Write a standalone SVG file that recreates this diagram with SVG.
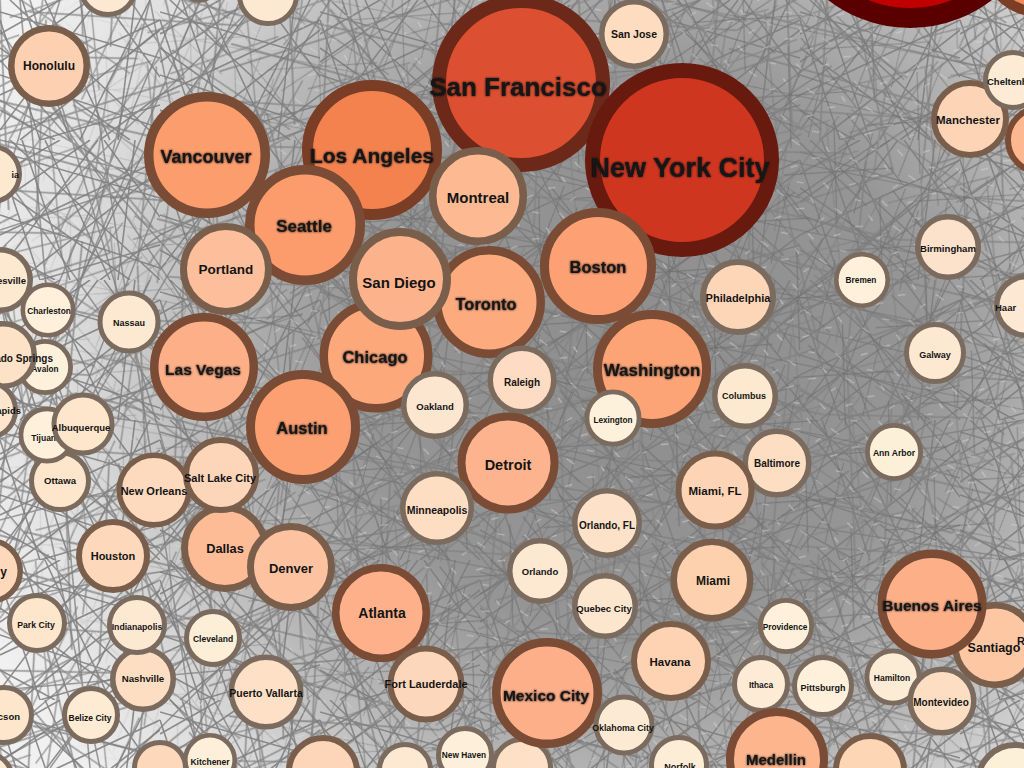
<svg xmlns="http://www.w3.org/2000/svg" width="1024" height="768" viewBox="0 0 1024 768">
<defs>
<style>
.l{font-family:"Liberation Sans",Arial,Helvetica,sans-serif;font-weight:bold;fill:#141414;text-anchor:middle}
.e{text-anchor:end}
.st{text-anchor:start}
.s1{stroke:#7b6b5f}
.s2{stroke:#7a5e4c}
.s3{stroke:#7a4b35}
.big{filter:url(#sh)}
.ln{stroke:#7d7d7d;stroke-width:1.6;fill:none;stroke-opacity:0.75}
</style>
<filter id="sh" x="-10%" y="-30%" width="120%" height="160%">
<feGaussianBlur in="SourceGraphic" stdDeviation="1.1" result="b"/>
<feMerge><feMergeNode in="b"/><feMergeNode in="SourceGraphic"/></feMerge>
</filter>
<radialGradient id="rg" gradientUnits="userSpaceOnUse" cx="640" cy="360" r="700">
<stop offset="0" stop-color="#878787" stop-opacity="0.95"/>
<stop offset="0.4" stop-color="#878787" stop-opacity="0.88"/>
<stop offset="0.62" stop-color="#878787" stop-opacity="0.6"/>
<stop offset="0.82" stop-color="#878787" stop-opacity="0.28"/>
<stop offset="1" stop-color="#878787" stop-opacity="0.12"/>
</radialGradient>
<radialGradient id="rw" gradientUnits="userSpaceOnUse" cx="640" cy="360" r="700">
<stop offset="0" stop-color="#ffffff" stop-opacity="1"/>
<stop offset="0.5" stop-color="#ffffff" stop-opacity="0.8"/>
<stop offset="0.8" stop-color="#ffffff" stop-opacity="0.3"/>
<stop offset="1" stop-color="#ffffff" stop-opacity="0"/>
</radialGradient>
<mask id="m1" maskUnits="userSpaceOnUse" x="0" y="0" width="1024" height="768">
<rect width="1024" height="768" fill="url(#rw)"/>
</mask>
<pattern id="pA" width="160" height="140" patternUnits="userSpaceOnUse">
<path d="M0 12L160 58M0 95L160 20M22 0L70 140M104 0L160 77M0 130L98 0M40 140L160 105M0 48L130 140M135 0L118 140M0 75L160 128M60 0L0 34M80 140L150 0M0 110L55 140M160 30L20 140M10 0L160 140M0 62L90 0M160 95L100 140M45 0L110 140M0 20L40 140" stroke="#7c7c7c" stroke-width="1.6" fill="none"/>
</pattern>
<pattern id="pB" width="230" height="190" patternUnits="userSpaceOnUse" patternTransform="rotate(23)">
<path d="M0 30L230 150M0 170L200 0M50 0L120 190M0 100L230 60M170 0L230 190M0 0L90 190M230 120L30 190M140 190L230 20M0 60L150 0M0 140L230 110M100 0L0 120M200 190L60 0" stroke="#808080" stroke-width="1.8" fill="none"/>
</pattern>
<pattern id="pC" width="97" height="89" patternUnits="userSpaceOnUse" patternTransform="rotate(-31)">
<path d="M0 20L97 70M0 80L97 5M30 0L55 89M70 0L20 89M0 45L97 40M85 0L97 89M0 0L97 89M97 30L40 89" stroke="#6e6e6e" stroke-width="1" fill="none"/>
</pattern>
<pattern id="pD" width="127" height="113" patternUnits="userSpaceOnUse" patternTransform="rotate(61)">
<path d="M0 15L127 70M0 100L127 35M40 0L20 113M90 0L127 60M0 60L70 113M127 90L60 0M0 0L50 113M100 113L127 10" stroke="#838383" stroke-width="1.6" fill="none"/>
</pattern>
<pattern id="pW" width="61" height="53" patternUnits="userSpaceOnUse" patternTransform="rotate(17)">
<path d="M5 8L14 11M30 20L37 17M48 40L55 44M12 35L18 31M40 5L45 9M22 47L29 46M55 25L59 20" stroke="#ffffff" stroke-width="1.2" fill="none"/>
</pattern>
</defs>
<rect width="1024" height="768" fill="#ffffff"/>
<g id="connectors">
<rect width="1024" height="768" fill="url(#rg)"/>
<rect width="1024" height="768" fill="url(#pA)" opacity="0.85"/>
<rect width="1024" height="768" fill="url(#pB)" opacity="0.75"/>
<rect width="1024" height="768" fill="url(#pD)" opacity="0.7"/>
<rect width="1024" height="768" fill="url(#pC)" mask="url(#m1)"/>
<rect width="1024" height="768" fill="url(#pW)" mask="url(#m1)" opacity="0.45"/>
<path class="ln" d="M0 100L1024 700M0 230L700 0M50 768L600 0M0 520L1024 250M150 0L300 768M0 650L900 0M0 400L1024 560M300 768L1024 100M0 30L500 768M0 720L400 300M100 768L0 300M0 170L420 768M240 0L0 600M0 460L560 0M0 600L1024 420M80 0L200 768M0 330L380 768M0 250L260 0M0 560L330 0M180 768L520 0M0 690L1024 600M20 0L90 768M0 140L1024 380M0 760L700 380M360 768L0 380M0 60L300 400M120 768L470 420M0 505L230 768M260 768L30 0M0 420L180 0M0 300L250 768M60 0L0 200M0 610L150 0M200 0L0 470M0 740L260 520M130 0L330 300"/>
</g>
<g id="nodes">
<g id="n-p1"><circle cx="108" cy="-13" r="27.5" fill="#fde8d2" stroke-width="5" class="s1"/></g>
<g id="n-p2"><circle cx="268" cy="-5" r="28.5" fill="#fde8d2" stroke-width="5" class="s1"/></g>
<g id="n-p3"><circle cx="199" cy="-16" r="17" fill="#fde8d2" stroke-width="4" class="s1"/></g>
<g id="n-tr"><circle cx="910" cy="-106" r="124" fill="#c00000" stroke="#5a0000" stroke-width="20"/></g>
<g id="n-tr2"><circle cx="1040" cy="-45" r="57" fill="#f08a5a" stroke="#7a3d25" stroke-width="10"/></g>

<g id="n-ia"><circle cx="-8" cy="174" r="27.5" fill="#fde8d0" stroke-width="5" class="s1"/><text class="l e" x="19" y="178" font-size="9">ia</text></g>
<g id="n-honolulu"><circle cx="49" cy="66" r="37.75" fill="#fdd0b1" stroke-width="6.5" class="s2"/><text class="l" x="49" y="70" font-size="12">Honolulu</text></g>
<g id="n-esville"><circle cx="0" cy="280" r="30.25" fill="#fde8d0" stroke-width="5.5" class="s1"/><text class="l e" x="26" y="284" font-size="9.5">esville</text></g>
<g id="n-charleston"><circle cx="48" cy="310" r="25.2" fill="#fef0da" stroke-width="4.6" class="s1"/><text class="l" x="49" y="314" font-size="8.4">Charleston</text></g>
<g id="n-nassau"><circle cx="129" cy="322" r="29" fill="#fde8d2" stroke-width="5" class="s1"/><text class="l" x="129" y="326" font-size="9">Nassau</text></g>
<g id="n-avalon"><circle cx="45" cy="367" r="25.6" fill="#fef1db" stroke-width="4.8" class="s1"/><text class="l" x="45" y="372" font-size="8.2">Avalon</text></g>
<g id="n-springs"><circle cx="3" cy="355" r="31.25" fill="#fde2c7" stroke-width="5.5" class="s1"/><text class="l e" x="53" y="362" font-size="10">rado Springs</text></g>
<g id="n-apids"><circle cx="-12" cy="410" r="27.5" fill="#fde6cc" stroke-width="5" class="s1"/><text class="l e" x="21" y="414" font-size="9.5">apids</text></g>
<g id="n-ottawa"><circle cx="60" cy="481" r="28.5" fill="#fde6cc" stroke-width="5" class="s1"/><text class="l" x="60" y="484" font-size="9.6">Ottawa</text></g>
<g id="n-tijuana"><circle cx="47" cy="435" r="26.1" fill="#fef0da" stroke-width="4.8" class="s1"/><text class="l" x="46" y="441" font-size="8.5">Tijuana</text></g>
<g id="n-albuquerque"><circle cx="83" cy="424" r="29" fill="#fde6cc" stroke-width="5" class="s1"/><text class="l" x="81" y="431" font-size="9.5">Albuquerque</text></g>

<g id="n-sanfrancisco"><circle cx="521" cy="83" r="82" fill="#dd4f31" stroke="#6c2818" stroke-width="14"/><text class="l big" x="518" y="96" font-size="26">San Francisco</text></g>
<g id="n-newyork"><circle cx="682" cy="160" r="89.5" fill="#cf3620" stroke="#681a0f" stroke-width="15"/><text class="l big" x="680" y="177" font-size="27">New York City</text></g>
<g id="n-sanjose"><circle cx="634" cy="34" r="32.25" fill="#fedcbf" stroke-width="5.5" class="s1"/><text class="l" x="634" y="38" font-size="10.5">San Jose</text></g>
<g id="n-losangeles"><circle cx="372" cy="150" r="64.5" fill="#f4824f" stroke="#7a3d25" stroke-width="11"/><text class="l big" x="372" y="163" font-size="21">Los Angeles</text></g>
<g id="n-vancouver"><circle cx="207" cy="155" r="58.25" fill="#fc9d6d" stroke-width="9.5" class="s3"/><text class="l big" x="206" y="163" font-size="18">Vancouver</text></g>
<g id="n-seattle"><circle cx="305" cy="225" r="55.25" fill="#fc9c6c" stroke-width="9.5" class="s3"/><text class="l big" x="304" y="232" font-size="17">Seattle</text></g>
<g id="n-portland"><circle cx="226" cy="269" r="42.5" fill="#fdbf9b" stroke-width="7" class="s2"/><text class="l" x="226" y="274" font-size="13.5">Portland</text></g>
<g id="n-montreal"><circle cx="478" cy="196" r="45.25" fill="#fdb991" stroke-width="7.5" class="s2"/><text class="l" x="478" y="203" font-size="15">Montreal</text></g>
<g id="n-toronto"><circle cx="489" cy="302" r="51.75" fill="#fdaa7f" stroke-width="8.5" class="s3"/><text class="l big" x="486" y="310" font-size="16.5">Toronto</text></g>
<g id="n-chicago"><circle cx="376" cy="356" r="52.25" fill="#fda87b" stroke-width="8.5" class="s3"/><text class="l big" x="375" y="363" font-size="16.5">Chicago</text></g>
<g id="n-austin"><circle cx="303" cy="427" r="52.5" fill="#fca071" stroke-width="9" class="s3"/><text class="l big" x="302" y="434" font-size="16.5">Austin</text></g>
<g id="n-sandiego"><circle cx="400" cy="279" r="47" fill="#fcb38b" stroke-width="8" class="s2"/><text class="l" x="399" y="288" font-size="15">San Diego</text></g>
<g id="n-oakland"><circle cx="435" cy="405" r="31.25" fill="#fde6d0" stroke-width="5.5" class="s1"/><text class="l" x="435" y="410" font-size="9.5">Oakland</text></g>
<g id="n-boston"><circle cx="598" cy="266" r="53.5" fill="#fda074" stroke-width="9" class="s3"/><text class="l big" x="598" y="273" font-size="16.5">Boston</text></g>
<g id="n-washington"><circle cx="652" cy="369" r="54.5" fill="#fda476" stroke-width="9" class="s3"/><text class="l big" x="652" y="376" font-size="17">Washington</text></g>
<g id="n-lexington"><circle cx="613" cy="418" r="26.1" fill="#fef1db" stroke-width="4.8" class="s1"/><text class="l" x="613" y="423" font-size="8.2">Lexington</text></g>
<g id="n-philadelphia"><circle cx="738" cy="297" r="35" fill="#fdd5b7" stroke-width="6" class="s1"/><text class="l" x="738" y="302" font-size="11">Philadelphia</text></g>
<g id="n-columbus"><circle cx="745" cy="396" r="30.25" fill="#fde8d0" stroke-width="5.5" class="s1"/><text class="l" x="744" y="399" font-size="9">Columbus</text></g>
<g id="n-raleigh"><circle cx="522" cy="380" r="31.75" fill="#fddcc3" stroke-width="5.5" class="s1"/><text class="l" x="522" y="386" font-size="10">Raleigh</text></g>
<g id="n-detroit"><circle cx="508" cy="463" r="46.5" fill="#fdb48e" stroke-width="8" class="s3"/><text class="l" x="508" y="470" font-size="14.5">Detroit</text></g>
<g id="n-minneapolis"><circle cx="437" cy="508" r="34.25" fill="#fddec3" stroke-width="5.5" class="s1"/><text class="l" x="437" y="514" font-size="10.5">Minneapolis</text></g>
<g id="n-baltimore"><circle cx="777" cy="463" r="31.75" fill="#fddec3" stroke-width="5.5" class="s1"/><text class="l" x="777" y="467" font-size="10">Baltimore</text></g>
<g id="n-miamifl"><circle cx="715" cy="490" r="36.5" fill="#fdd4b6" stroke-width="6" class="s2"/><text class="l" x="715" y="495" font-size="11.5">Miami, FL</text></g>
<g id="n-orlandofl"><circle cx="607" cy="523" r="32.25" fill="#fde2c9" stroke-width="5.5" class="s1"/><text class="l" x="607" y="529" font-size="10">Orlando, FL</text></g>
<g id="n-miami"><circle cx="712" cy="580" r="38.25" fill="#fdd0ae" stroke-width="6.5" class="s2"/><text class="l" x="713" y="585" font-size="12">Miami</text></g>
<g id="n-orlando"><circle cx="540" cy="571" r="30.25" fill="#fde8d2" stroke-width="5.5" class="s1"/><text class="l" x="540" y="575" font-size="9.5">Orlando</text></g>
<g id="n-quebec"><circle cx="605" cy="606" r="30.25" fill="#fde6ce" stroke-width="5.5" class="s1"/><text class="l" x="604" y="612" font-size="9.5">Quebec City</text></g>
<g id="n-havana"><circle cx="671" cy="661" r="37" fill="#fdd3b4" stroke-width="6" class="s2"/><text class="l" x="670" y="666" font-size="11.5">Havana</text></g>
<g id="n-providence"><circle cx="786" cy="626" r="25.6" fill="#fef0da" stroke-width="4.8" class="s1"/><text class="l" x="785" y="630" font-size="8.3">Providence</text></g>
<g id="n-ithaca"><circle cx="761" cy="684" r="26.5" fill="#fdebd5" stroke-width="5" class="s1"/><text class="l" x="761" y="688" font-size="8.4">Ithaca</text></g>
<g id="n-pittsburgh"><circle cx="823" cy="686" r="28.5" fill="#fef0db" stroke-width="5" class="s1"/><text class="l" x="823" y="691" font-size="9">Pittsburgh</text></g>

<g id="n-lasvegas"><circle cx="204" cy="367" r="49.75" fill="#fdb088" stroke-width="8.5" class="s3"/><text class="l big" x="203" y="375" font-size="15.5">Las Vegas</text></g>
<g id="n-neworleans"><circle cx="154" cy="490" r="34.75" fill="#fddabe" stroke-width="5.5" class="s2"/><text class="l" x="154" y="495" font-size="11">New Orleans</text></g>
<g id="n-dallas"><circle cx="225" cy="548" r="40.5" fill="#fdbb96" stroke-width="7" class="s2"/><text class="l" x="225" y="553" font-size="12.8">Dallas</text></g>
<g id="n-saltlake"><circle cx="221" cy="475" r="35" fill="#fdd6ba" stroke-width="6" class="s2"/><text class="l" x="220" y="482" font-size="11">Salt Lake City</text></g>
<g id="n-denver"><circle cx="291" cy="567" r="40.5" fill="#fdc3a0" stroke-width="7" class="s2"/><text class="l" x="291" y="573" font-size="13">Denver</text></g>
<g id="n-houston"><circle cx="113" cy="556" r="34" fill="#fdd8bb" stroke-width="6" class="s2"/><text class="l" x="113" y="560" font-size="11">Houston</text></g>
<g id="n-y"><circle cx="-10" cy="571" r="30.25" fill="#fdd8bb" stroke-width="5.5" class="s2"/><text class="l e" x="7" y="576" font-size="12">y</text></g>
<g id="n-atlanta"><circle cx="381" cy="613" r="45.25" fill="#fdb089" stroke-width="7.5" class="s3"/><text class="l" x="382" y="618" font-size="14">Atlanta</text></g>
<g id="n-parkcity"><circle cx="37" cy="623" r="27.5" fill="#fde6cc" stroke-width="5" class="s1"/><text class="l" x="36" y="628" font-size="8.7">Park City</text></g>
<g id="n-nashville"><circle cx="143" cy="679" r="30.25" fill="#fddec2" stroke-width="5.5" class="s1"/><text class="l" x="143" y="682" font-size="9.7">Nashville</text></g>
<g id="n-indianapolis"><circle cx="137" cy="625" r="27.5" fill="#fde8d2" stroke-width="5" class="s1"/><text class="l" x="137" y="630" font-size="8.7">Indianapolis</text></g>
<g id="n-cleveland"><circle cx="213" cy="638" r="26.5" fill="#fdeed8" stroke-width="5" class="s1"/><text class="l" x="213" y="642" font-size="8.5">Cleveland</text></g>
<g id="n-puertovallarta"><circle cx="266" cy="692" r="34.75" fill="#fde0c6" stroke-width="5.5" class="s1"/><text class="l" x="266" y="697" font-size="10.5">Puerto Vallarta</text></g>
<g id="n-fortlauderdale"><circle cx="426" cy="684" r="35.5" fill="#fdd7bb" stroke-width="6" class="s2"/><text class="l" x="426" y="688" font-size="11">Fort Lauderdale</text></g>
<g id="n-cson"><circle cx="4" cy="715" r="27.5" fill="#fde6cc" stroke-width="5" class="s1"/><text class="l e" x="20" y="720" font-size="9.5">cson</text></g>
<g id="n-belize"><circle cx="91" cy="715" r="26.5" fill="#fdebd3" stroke-width="5" class="s1"/><text class="l" x="90" y="721" font-size="8.5">Belize City</text></g>
<g id="n-kitchener"><circle cx="210" cy="760" r="24.7" fill="#fdefd9" stroke-width="4.6" class="s1"/><text class="l" x="210" y="765" font-size="8.5">Kitchener</text></g>
<g id="n-b4"><circle cx="160" cy="768" r="25.5" fill="#fdd8bb" stroke-width="5" class="s1"/></g>
<g id="n-b5"><circle cx="-15" cy="780" r="27.5" fill="#fde8d2" stroke-width="5" class="s1"/></g>
<g id="n-b6"><circle cx="323" cy="772" r="34" fill="#fdd5b8" stroke-width="6" class="s2"/></g>
<g id="n-b7"><circle cx="405" cy="770" r="25.5" fill="#fde8d2" stroke-width="5" class="s1"/></g>
<g id="n-newhaven"><circle cx="465" cy="755" r="26.5" fill="#fdefd9" stroke-width="5" class="s1"/><text class="l" x="464" y="758" font-size="8.3">New Haven</text></g>
<g id="n-b1"><circle cx="522" cy="768" r="28.5" fill="#fde0c6" stroke-width="5" class="s1"/></g>
<g id="n-mexicocity"><circle cx="547" cy="693" r="50.75" fill="#fdaf89" stroke-width="8.5" class="s3"/><text class="l big" x="546" y="701" font-size="15.5">Mexico City</text></g>
<g id="n-oklahoma"><circle cx="624" cy="725" r="28" fill="#fdead4" stroke-width="5" class="s1"/><text class="l" x="623" y="731" font-size="8.8">Oklahoma City</text></g>
<g id="n-norfolk"><circle cx="679" cy="765" r="27.5" fill="#fdecd6" stroke-width="5" class="s1"/><text class="l" x="680" y="770" font-size="9">Norfolk</text></g>
<g id="n-medellin"><circle cx="777" cy="759" r="47" fill="#fdb58e" stroke-width="8" class="s3"/><text class="l big" x="776" y="765" font-size="15">Medellin</text></g>
<g id="n-b2"><circle cx="870" cy="770" r="34" fill="#fdd6b6" stroke-width="6" class="s2"/></g>
<g id="n-b3"><circle cx="1015" cy="782" r="37" fill="#fdf0d9" stroke-width="6" class="s1"/></g>

<g id="n-rp"><circle cx="1040" cy="140" r="32" fill="#fdb890" stroke-width="6" class="s3"/></g>
<g id="n-manchester"><circle cx="970" cy="119" r="36" fill="#fdd5b6" stroke-width="6" class="s2"/><text class="l" x="968" y="124" font-size="11.5">Manchester</text></g>
<g id="n-cheltenham"><circle cx="1013" cy="80" r="27.5" fill="#fdebd5" stroke-width="5" class="s1"/><text class="l st" x="987" y="85" font-size="9.5">Cheltenh</text></g>
<g id="n-birmingham"><circle cx="948" cy="247" r="30.25" fill="#fde2cb" stroke-width="5.5" class="s1"/><text class="l" x="948" y="252" font-size="9.6">Birmingham</text></g>
<g id="n-bremen"><circle cx="862" cy="280" r="25.7" fill="#fef0da" stroke-width="4.6" class="s1"/><text class="l" x="861" y="283" font-size="8.3">Bremen</text></g>
<g id="n-haar"><circle cx="1026" cy="306" r="29.25" fill="#fde8d3" stroke-width="5.5" class="s1"/><text class="l st" x="995" y="311" font-size="9.5">Haar</text></g>
<g id="n-galway"><circle cx="935" cy="353" r="28.5" fill="#fde8d2" stroke-width="5" class="s1"/><text class="l" x="935" y="358" font-size="9">Galway</text></g>
<g id="n-annarbor"><circle cx="894" cy="452" r="26.6" fill="#fdf0d8" stroke-width="4.8" class="s1"/><text class="l" x="894" y="456" font-size="8.6">Ann Arbor</text></g>
<g id="n-santiago"><circle cx="995" cy="645" r="39.75" fill="#fdc7a4" stroke-width="6.5" class="s2"/><text class="l" x="994" y="652" font-size="12.5">Santiago</text></g>
<g id="n-buenosaires"><circle cx="932" cy="604" r="50.25" fill="#fdaf87" stroke-width="8.5" class="s3"/><text class="l big" x="932" y="611" font-size="15.5">Buenos Aires</text></g>
<g id="n-r"><text class="l st" x="1017" y="645" font-size="11">R</text></g>
<g id="n-hamilton"><circle cx="893" cy="677" r="26.1" fill="#fdecd5" stroke-width="4.8" class="s1"/><text class="l" x="892" y="681" font-size="8.5">Hamilton</text></g>
<g id="n-montevideo"><circle cx="942" cy="701" r="31.75" fill="#fddec2" stroke-width="5.5" class="s1"/><text class="l" x="941" y="706" font-size="10">Montevideo</text></g>
</g>
</svg>
